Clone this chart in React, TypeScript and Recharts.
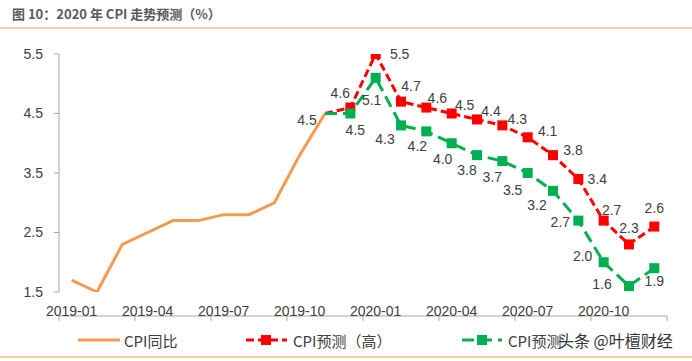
import React from 'react';
import { LineChart, Line, XAxis, YAxis, LabelList } from 'recharts';

const months = [
  '2019-01', '2019-02', '2019-03', '2019-04', '2019-05', '2019-06',
  '2019-07', '2019-08', '2019-09', '2019-10', '2019-11', '2019-12',
  '2020-01', '2020-02', '2020-03', '2020-04', '2020-05', '2020-06',
  '2020-07', '2020-08', '2020-09', '2020-10', '2020-11', '2020-12',
];
const cpiActual: (number | null)[] = [
  1.7, 1.5, 2.3, 2.5, 2.7, 2.7, 2.8, 2.8, 3.0, 3.8, 4.5, null,
  null, null, null, null, null, null, null, null, null, null, null, null,
];
const cpiHigh: (number | null)[] = [
  null, null, null, null, null, null, null, null, null, null, 4.5, 4.6,
  5.5, 4.7, 4.6, 4.5, 4.4, 4.3, 4.1, 3.8, 3.4, 2.7, 2.3, 2.6,
];
const cpiLow: (number | null)[] = [
  null, null, null, null, null, null, null, null, null, null, 4.5, 4.5,
  5.1, 4.3, 4.2, 4.0, 3.8, 3.7, 3.5, 3.2, 2.7, 2.0, 1.6, 1.9,
];
const xTickLabels = ['2019-01', '2019-04', '2019-07', '2019-10', '2020-01', '2020-04', '2020-07', '2020-10'];
const yTicks = [1.5, 2.5, 3.5, 4.5, 5.5];
const seriesNames = ['CPI同比', 'CPI预测（高）', 'CPI预测（低）'];
const legendVisibleLow = 'CPI预测';
const titleText = '图 10：2020 年 CPI 走势预测（%）';
const watermark = '头条 @叶檀财经';

// label offsets (styling), by month index
const highLabelOffsets: Record<number, [number, number]> = {
  11: [-10, -15], 12: [24, 0], 13: [10, -16], 14: [11, -10], 15: [13, -9], 16: [14, -8],
  17: [15, -6], 18: [20, -6], 19: [20, -5], 20: [19, 0], 21: [8, -11], 22: [0, -16], 23: [0, -19],
};
const lowLabelOffsets: Record<number, [number, number]> = {
  11: [5, 16], 12: [-4, 22], 13: [-16, 14], 14: [-9, 15], 15: [-9, 16], 16: [-10, 15],
  17: [-10, 16], 18: [-15, 17], 19: [-16, 14], 20: [-18, 1], 21: [-21, -6], 22: [-27, -2], 23: [0, 13],
};
const actualLabelOffsets: Record<number, [number, number]> = { 10: [-18, 6] };

const data = months.map((m, i) => ({
  x: i + 0.5,
  month: m,
  actual: cpiActual[i],
  high: cpiHigh[i],
  low: cpiLow[i],
}));

const tickBoundaries = Array.from({ length: 9 }, (_, k) => k * 3);
const labelPositions = xTickLabels.map((_, k) => k * 3 + 0.5);

const ORANGE = '#F59A4F';
const RED = '#FF0000';
const GREEN = '#00B050';
const TEXT = '#404040';
const AXIS = '#A6A6A6';
const FONT = '"Liberation Sans", Arial, sans-serif';
const CJK = '"Noto Sans CJK SC", sans-serif';

const makeLabel = (offsets: Record<number, [number, number]>) => (props: any) => {
  const { x, y, value, index } = props;
  const off = offsets[index];
  if (value == null || !off) return null;
  return (
    <text
      x={x + off[0]}
      y={y + off[1]}
      textAnchor="middle"
      dominantBaseline="central"
      fontSize={14}
      fontFamily={FONT}
      fill={TEXT}
    >
      {Number(value).toFixed(1)}
    </text>
  );
};

const makeDot = (color: string) => (props: any) => {
  const { cx, cy, index, value } = props;
  if (value == null || cx == null || cy == null || index === 10) return <g key={`d${index}`} />;
  return <rect key={`d${index}`} x={cx - 5} y={cy - 5} width={10} height={10} fill={color} />;
};

const EmptyTick = () => <g />;

export default function App() {
  return (
    <div style={{ position: 'absolute', left: 0, top: 0, width: 692, height: 361, background: '#fff', overflow: 'hidden' }}>
      <div
        style={{
          position: 'absolute', left: 12, top: 5, fontFamily: CJK, fontWeight: 700,
          fontSize: 13, color: '#595959', lineHeight: '18px', whiteSpace: 'nowrap',
        }}
      >
        {titleText}
      </div>
      <div style={{ position: 'absolute', left: 0, top: 27, width: 692, height: 2, background: '#F8CBA0' }} />
      <div style={{ position: 'absolute', left: 0, top: 356, width: 692, height: 2, background: '#F8CBA0' }} />
      <div style={{ position: 'absolute', left: 0, top: 0 }}>
        <LineChart width={692} height={361} data={data} margin={{ top: 54, right: 25, left: 0, bottom: 39 }}>
          <XAxis
            xAxisId="main"
            dataKey="x"
            type="number"
            domain={[0, 24]}
            ticks={tickBoundaries}
            tick={EmptyTick}
            interval={0}
            height={6}
            stroke={AXIS}
            tickLine={{ stroke: AXIS }}
            tickSize={5}
            allowDataOverflow
          />
          <XAxis
            xAxisId="labels"
            dataKey="x"
            type="number"
            domain={[0, 24]}
            ticks={labelPositions}
            tickFormatter={(v: number) => xTickLabels[Math.round((v - 0.5) / 3)] ?? ''}
            interval={0}
            height={24}
            axisLine={false}
            tickLine={false}
            tickSize={0}
            tickMargin={14}
            tick={{ fill: TEXT, fontSize: 14, fontFamily: FONT }}
            allowDataOverflow
          />
          <YAxis
            type="number"
            domain={[1.5, 5.5]}
            ticks={yTicks}
            tickFormatter={(v: number) => v.toFixed(1)}
            width={59}
            stroke={AXIS}
            tickSize={5}
            tickMargin={11}
            tick={{ fill: TEXT, fontSize: 14, fontFamily: FONT }}
            allowDataOverflow
          />
          <Line
            xAxisId="main"
            type="linear"
            dataKey="actual"
            name={seriesNames[0]}
            stroke={ORANGE}
            strokeWidth={3}
            dot={false}
            isAnimationActive={false}
          >
            <LabelList dataKey="actual" content={makeLabel(actualLabelOffsets)} />
          </Line>
          <Line
            xAxisId="main"
            type="linear"
            dataKey="high"
            name={seriesNames[1]}
            stroke={RED}
            strokeWidth={3}
            strokeDasharray="8 4"
            dot={makeDot(RED)}
            isAnimationActive={false}
          >
            <LabelList dataKey="high" content={makeLabel(highLabelOffsets)} />
          </Line>
          <Line
            xAxisId="main"
            type="linear"
            dataKey="low"
            name={seriesNames[2]}
            stroke={GREEN}
            strokeWidth={3}
            strokeDasharray="12 6"
            dot={makeDot(GREEN)}
            isAnimationActive={false}
          >
            <LabelList dataKey="low" content={makeLabel(lowLabelOffsets)} />
          </Line>
        </LineChart>
      </div>
      <svg style={{ position: 'absolute', left: 0, top: 325 }} width={692} height={30}>
        <line x1={78} y1={15} x2={120} y2={15} stroke={ORANGE} strokeWidth={3} />
        <text x={124} y={15} dominantBaseline="central" fontSize={15} fontFamily={CJK} fill={TEXT}>{seriesNames[0]}</text>
        <line x1={246} y1={15} x2={287} y2={15} stroke={RED} strokeWidth={3} strokeDasharray="8 4" />
        <rect x={261} y={10} width={10} height={10} fill={RED} />
        <text x={293} y={15} dominantBaseline="central" fontSize={15} fontFamily={CJK} fill={TEXT}>{seriesNames[1]}</text>
        <line x1={462} y1={15} x2={502} y2={15} stroke={GREEN} strokeWidth={3} strokeDasharray="12 6" />
        <rect x={477} y={10} width={10} height={10} fill={GREEN} />
        <text x={508} y={15} dominantBaseline="central" fontSize={15} fontFamily={CJK} fill={TEXT}>{legendVisibleLow}</text>
        <text x={558} y={15} dominantBaseline="central" fontSize={16} fontFamily={CJK} fill="#333">{watermark}</text>
      </svg>
    </div>
  );
}
